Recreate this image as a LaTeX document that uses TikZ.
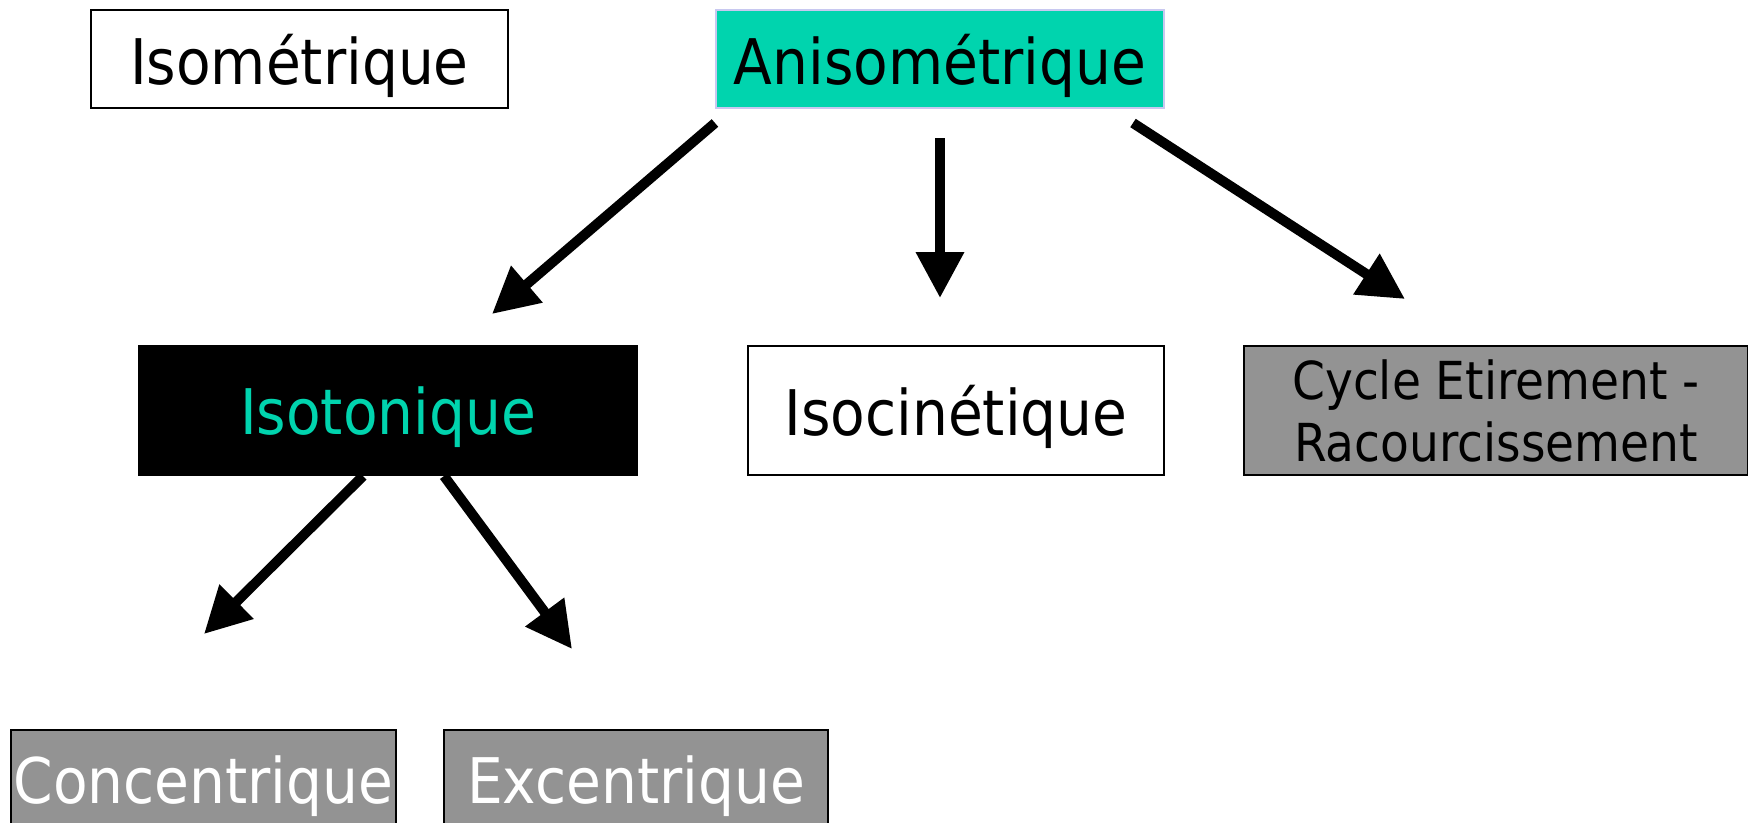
\documentclass[tikz,border=0pt]{standalone}
\usepackage{fontspec}
\setmainfont{DejaVu Sans Condensed}
\usetikzlibrary{arrows.meta}
\definecolor{tealfill}{HTML}{00D4AE}
\definecolor{greyfill}{HTML}{939393}
\definecolor{lavline}{HTML}{C8C8F0}
\tikzset{
	box/.style={draw=black, line width=0.6pt, inner sep=0pt, align=center, text depth=0pt, font=\fontsize{17.9}{21}\selectfont},
	fat/.style={line width=1mm, -{Triangle[length=4.6mm, width=4.6mm]}}
}

\begin{document}
\begin{tikzpicture}
		%%%%% START %%%%%
		
		\clip (0, 0) rectangle (17.48, -8.22);
		\fill[white] (0, 0) rectangle (17.48, -8.22);
		
		\node[box, minimum width=4.17cm, minimum height=0.98cm] (iso) at (2.995, -0.59) {Isométrique};
		\node[box, draw=lavline, fill=tealfill, minimum width=4.48cm, minimum height=0.98cm] (aniso) at (9.40, -0.59) {Anisométrique};
		
		\node[box, fill=black, text=tealfill, minimum width=4.98cm, minimum height=1.29cm] (isoton) at (3.88, -4.105) {Isotonique};
		\node[box, minimum width=4.16cm, minimum height=1.29cm] (isocin) at (9.56, -4.105) {Isocinétique};
		\node[box, fill=greyfill, minimum width=5.04cm, minimum height=1.29cm, font=\fontsize{14.9}{17.6}\selectfont] (cycle) at (14.96, -4.105) {Cycle Etirement -\\Racourcissement};
		
		\node[box, fill=greyfill, text=white, minimum width=3.85cm, minimum height=1.0cm] (conc) at (2.035, -7.80) {Concentrique};
		\node[box, fill=greyfill, text=white, minimum width=3.84cm, minimum height=1.0cm] (exc) at (6.36, -7.80) {Excentrique};
		
		% free ends of the arrows
		\coordinate (a1s) at (7.15, -1.23);
		\coordinate (a1e) at (4.92, -3.14);
		\coordinate (a2s) at (9.40, -1.38);
		\coordinate (a2e) at (9.40, -2.98);
		\coordinate (a3s) at (11.33, -1.23);
		\coordinate (a3e) at (14.05, -2.99);
		\coordinate (a4s) at (3.63, -4.76);
		\coordinate (a4e) at (2.04, -6.34);
		\coordinate (a5s) at (4.44, -4.76);
		\coordinate (a5e) at (5.72, -6.49);
		
		\draw[fat] (a1s) -- (a1e);
		\draw[fat] (a2s) -- (a2e);
		\draw[fat] (a3s) -- (a3e);
		\draw[fat] (a4s) -- (a4e);
		\draw[fat] (a5s) -- (a5e);
		
		%%%%% END %%%%%
	\end{tikzpicture}
\end{document}
